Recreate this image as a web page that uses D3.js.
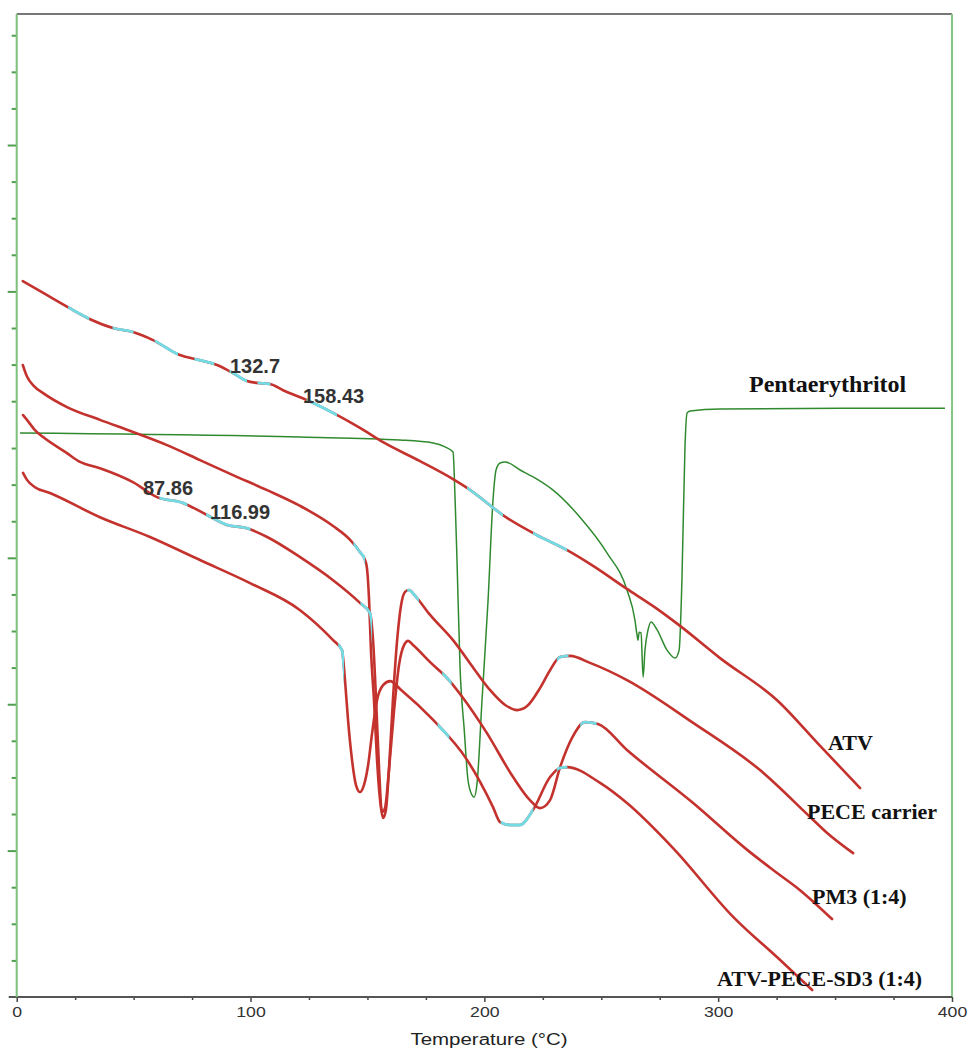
<!DOCTYPE html>
<html>
<head>
<meta charset="utf-8">
<script src="https://cdn.jsdelivr.net/npm/d3@7"></script>
<style>
  body { margin: 0; background: #fff; }
  svg { display: block; }
</style>
</head>
<body>
<div id="chart"></div>
<script>
// DSC thermograms: temperature (°C) vs heat flow (arbitrary units)
var atvT = [2.6, 12.1, 21.9, 31.4, 41.2, 49.7, 58.3, 69.8, 78.4, 85.7, 92.5, 98.5, 102.8, 108.3, 113.9, 124.2, 135.3, 146.8, 156.7, 172.5, 186.6, 192.6, 209.7, 222.5, 235.4, 246.5, 261.0, 272.2, 283.7, 300.8, 325.2, 343.6, 360.7];
var atvHF = [19.56, 19.21, 18.85, 18.52, 18.28, 18.17, 17.95, 17.54, 17.40, 17.27, 17.05, 16.83, 16.78, 16.75, 16.58, 16.31, 15.96, 15.55, 15.16, 14.64, 14.15, 13.91, 13.09, 12.62, 12.21, 11.78, 11.15, 10.68, 10.14, 9.26, 8.11, 6.86, 5.71];

var peceT = [2.6, 4.3, 7.4, 11.3, 21.5, 35.6, 49.7, 64.3, 78.4, 92.5, 107.1, 121.2, 135.3, 142.6, 146.8, 149.0, 149.8, 150.7, 151.5, 152.8, 154.1, 155.4, 156.7, 157.9, 159.2, 160.9, 162.7, 164.4, 166.1, 167.8, 170.4, 176.8, 186.6, 196.0, 202.4, 208.9, 214.0, 218.3, 223.8, 228.1, 232.4, 236.7, 245.2, 261.0, 289.3, 317.9, 339.3, 346.6, 357.7];
var peceHF = [17.27, 16.97, 16.69, 16.50, 16.12, 15.77, 15.44, 15.08, 14.67, 14.26, 13.85, 13.42, 12.87, 12.49, 12.16, 11.94, 11.72, 10.85, 9.48, 8.11, 6.48, 5.38, 4.89, 5.11, 6.20, 8.11, 9.75, 10.71, 11.07, 11.12, 10.96, 10.44, 9.75, 8.93, 8.39, 7.98, 7.84, 7.95, 8.44, 8.93, 9.29, 9.32, 9.13, 8.66, 7.49, 6.20, 4.92, 4.48, 3.93];

var pm3T = [2.7, 4.4, 7.8, 11.3, 21.5, 27.1, 35.6, 49.7, 60.0, 71.1, 81.4, 89.9, 98.5, 107.1, 121.2, 135.3, 146.8, 151.1, 152.4, 153.7, 155.0, 156.2, 157.5, 159.2, 161.4, 163.5, 165.7, 167.4, 169.5, 176.8, 184.0, 190.9, 201.1, 212.3, 219.5, 223.8, 228.1, 232.4, 237.5, 243.1, 248.6, 261.0, 289.3, 312.4, 323.5, 335.0, 348.7];
var pm3HF = [15.90, 15.77, 15.49, 15.30, 14.86, 14.62, 14.45, 14.07, 13.66, 13.50, 13.17, 12.90, 12.81, 12.57, 12.02, 11.39, 10.77, 10.49, 9.75, 8.11, 6.20, 5.05, 5.16, 6.20, 7.84, 9.07, 9.62, 9.73, 9.62, 9.15, 8.72, 8.17, 7.21, 6.01, 5.38, 5.16, 5.38, 6.28, 7.08, 7.51, 7.46, 6.75, 5.30, 4.02, 3.47, 2.92, 2.13];

var sd3T = [2.7, 4.4, 7.8, 14.2, 35.6, 57.0, 78.4, 99.8, 121.2, 135.3, 139.1, 140.4, 141.7, 143.4, 145.1, 146.8, 148.5, 150.3, 152.0, 154.1, 156.7, 159.7, 164.4, 178.1, 192.6, 203.7, 206.7, 211.0, 215.2, 220.8, 228.1, 232.4, 235.4, 249.5, 261.0, 280.7, 306.4, 326.5, 340.2];
var sd3HF = [14.32, 14.13, 13.93, 13.77, 13.11, 12.57, 11.94, 11.31, 10.57, 9.75, 9.48, 8.66, 7.57, 6.48, 5.79, 5.60, 5.79, 6.34, 7.21, 8.11, 8.52, 8.63, 8.39, 7.57, 6.48, 5.19, 4.78, 4.70, 4.70, 5.11, 6.01, 6.26, 6.28, 5.85, 5.30, 4.07, 2.19, 1.01, 0.19];

var pentaT = [1.4, 121.2, 163.9, 178.1, 183.2, 186.6, 187.5, 188.3, 189.6, 191.4, 193.0, 194.7, 195.6, 196.9, 199.0, 201.6, 203.7, 205.0, 206.7, 208.9, 215.3, 222.5, 229.4, 240.9, 252.5, 261.0, 264.4, 265.3, 265.7, 266.2, 267.0, 267.9, 268.7, 270.0, 271.3, 273.9, 278.1, 281.6, 283.3, 284.5, 285.8, 286.7, 288.0, 300.8, 397.0];
var pentaHF = [15.41, 15.30, 15.22, 15.14, 15.03, 14.89, 13.58, 11.94, 9.02, 7.30, 5.93, 5.52, 5.46, 5.85, 8.11, 10.85, 13.58, 14.40, 14.59, 14.62, 14.40, 14.15, 13.85, 13.11, 12.13, 11.12, 10.30, 9.89, 9.75, 9.97, 9.95, 8.74, 9.48, 10.03, 10.25, 10.03, 9.48, 9.26, 9.48, 11.39, 15.03, 15.96, 16.01, 16.07, 16.09];

// light-blue highlighted stretches of the red traces (temperature ranges)
var atvCyan = [[22, 31], [41, 50], [59, 69], [76, 84.5], [91, 98.5], [103, 108.5], [124, 137], [192.6, 208], [220.8, 235.4]];
var peceCyan = [[144, 149], [167, 172], [231, 236]];
var pm3Cyan = [[61, 73], [81, 100], [147, 152], [182, 186], [241, 248]];
var sd3Cyan = [[137.5, 140], [180, 185], [207, 221], [231, 235.5]];

// series names
var seriesNames = ["ATV", "PECE carrier", "PM3 (1:4)", "ATV-PECE-SD3 (1:4)", "Pentaerythritol"];

// peak annotations
var peakLabels = ["132.7", "158.43", "87.86", "116.99"];

// axis ticks
var xMajorTicks = [0, 100, 200, 300, 400];
var xMinorTicks = [25, 50, 75, 125, 150, 175, 225, 250, 275, 325, 350, 375];
var yMajorTicks = [4, 8, 12, 19.28, 23.28];
var yMinorTicks = [1, 2, 3, 5, 6, 7, 9, 10, 11, 13, 14, 15, 16.28, 17.28, 18.28, 20.28, 21.28, 22.28, 24.28, 25.28, 26.28];

var svgWidth = 969;
var svgHeight = 1049;
var plot = { left: 16.7, right: 952, top: 14, bottom: 997 };

var svg = d3.select("#chart")
    .append("svg")
    .attr("width", svgWidth)
    .attr("height", svgHeight);

var xScale = d3.scaleLinear().domain([0, 400]).range([plot.left, plot.right]);
var yScale = d3.scaleLinear().domain([0, 26.86]).range([plot.bottom, plot.top]);

function zipSeries(ts, hs) {
    return ts.map(function (t, i) { return { t: t, h: hs[i] }; });
}

var line = d3.line()
    .x(d => xScale(d.t))
    .y(d => yScale(d.h))
    .curve(d3.curveMonotoneX);

// frame
svg.append("line")
    .attr("x1", plot.left).attr("x2", plot.right)
    .attr("y1", plot.top).attr("y2", plot.top)
    .attr("stroke", "#777").attr("stroke-width", 2);
svg.append("line")
    .attr("x1", plot.right).attr("x2", plot.right)
    .attr("y1", plot.top).attr("y2", plot.bottom)
    .attr("stroke", "#86c686").attr("stroke-width", 2);

// bottom axis
var bottomMajor = d3.axisBottom(xScale).tickValues(xMajorTicks).tickSize(5).tickPadding(4).tickFormat(d3.format("d"));
var bottomMinor = d3.axisBottom(xScale).tickValues(xMinorTicks).tickSize(3).tickFormat("");

var gxMinor = svg.append("g").attr("transform", `translate(0, ${plot.bottom})`).call(bottomMinor);
var gx = svg.append("g").attr("transform", `translate(0, ${plot.bottom})`).call(bottomMajor);
[gx, gxMinor].forEach(function (g) {
    g.select(".domain").remove();
    g.selectAll("line").attr("stroke", "#444").attr("stroke-width", 1.5);
});
gx.selectAll("text")
    .attr("font-family", "Liberation Sans, Arial, sans-serif")
    .attr("font-size", "15px")
    .attr("fill", "#333")
    .attr("transform", "scale(1.18,1)");

svg.append("line")
    .attr("x1", plot.left - 8).attr("x2", plot.right)
    .attr("y1", plot.bottom).attr("y2", plot.bottom)
    .attr("stroke", "#555").attr("stroke-width", 2);

// left axis
var leftMajor = d3.axisLeft(yScale).tickValues(yMajorTicks).tickSize(9).tickFormat("");
var leftMinor = d3.axisLeft(yScale).tickValues(yMinorTicks).tickSize(5).tickFormat("");
var gyMajor = svg.append("g").attr("transform", `translate(${plot.left}, 0)`).call(leftMajor);
var gyMinor = svg.append("g").attr("transform", `translate(${plot.left}, 0)`).call(leftMinor);
[gyMajor, gyMinor].forEach(function (g) {
    g.select(".domain").remove();
    g.selectAll("line").attr("stroke", "#4f9f4f").attr("stroke-width", 2);
});
svg.append("line")
    .attr("x1", plot.left).attr("x2", plot.left)
    .attr("y1", plot.top).attr("y2", plot.bottom)
    .attr("stroke", "#7cc07c").attr("stroke-width", 2);

// x axis title
svg.append("text")
    .attr("transform", "translate(489, 1045) scale(1.28,1)")
    .attr("text-anchor", "middle")
    .attr("font-family", "Liberation Sans, Arial, sans-serif")
    .attr("font-size", "16px")
    .attr("fill", "#222")
    .text("Temperature (°C)");

// pentaerythritol trace
svg.append("path")
    .datum(zipSeries(pentaT, pentaHF))
    .attr("fill", "none")
    .attr("stroke", "#2f8a2f")
    .attr("stroke-width", 1.5)
    .attr("d", line);

// red traces with light-blue stretches
var redSeries = [
    { id: "atv", data: zipSeries(atvT, atvHF), cyan: atvCyan },
    { id: "pece", data: zipSeries(peceT, peceHF), cyan: peceCyan },
    { id: "pm3", data: zipSeries(pm3T, pm3HF), cyan: pm3Cyan },
    { id: "sd3", data: zipSeries(sd3T, sd3HF), cyan: sd3Cyan }
];

var defs = svg.append("defs");

redSeries.forEach(function (s) {
    svg.append("path")
        .datum(s.data)
        .attr("fill", "none")
        .attr("stroke", "#c4322e")
        .attr("stroke-width", 2.6)
        .attr("stroke-linejoin", "round")
        .attr("stroke-linecap", "round")
        .attr("d", line);

    var clip = defs.append("clipPath").attr("id", "clip-" + s.id);
    clip.selectAll("rect")
        .data(s.cyan)
        .enter()
        .append("rect")
        .attr("x", d => xScale(d[0]))
        .attr("width", d => xScale(d[1]) - xScale(d[0]))
        .attr("y", plot.top)
        .attr("height", plot.bottom - plot.top);

    svg.append("path")
        .datum(s.data)
        .attr("fill", "none")
        .attr("stroke", "#72dbe4")
        .attr("stroke-width", 2.8)
        .attr("clip-path", "url(#clip-" + s.id + ")")
        .attr("d", line);
});

// series labels
var labelPos = [[828, 750], [807, 819], [812, 904], [717, 986], [749, 392]];
svg.selectAll(".seriesLabel")
    .data(seriesNames)
    .enter()
    .append("text")
    .attr("class", "seriesLabel")
    .attr("x", (d, i) => labelPos[i][0])
    .attr("y", (d, i) => labelPos[i][1])
    .attr("font-family", "Liberation Serif, 'DejaVu Serif', serif")
    .attr("font-weight", "bold")
    .attr("font-size", (d, i) => i === 4 ? "24px" : "22px")
    .attr("fill", "#111")
    .text(d => d);

// peak annotations
var peakPos = [[230, 373], [303, 403], [143, 495], [210, 519]];
svg.selectAll(".peakLabel")
    .data(peakLabels)
    .enter()
    .append("text")
    .attr("class", "peakLabel")
    .attr("x", (d, i) => peakPos[i][0])
    .attr("y", (d, i) => peakPos[i][1])
    .attr("font-family", "Liberation Sans, Arial, sans-serif")
    .attr("font-weight", "bold")
    .attr("font-size", "20px")
    .attr("fill", "#333")
    .text(d => d);
</script>
</body>
</html>
